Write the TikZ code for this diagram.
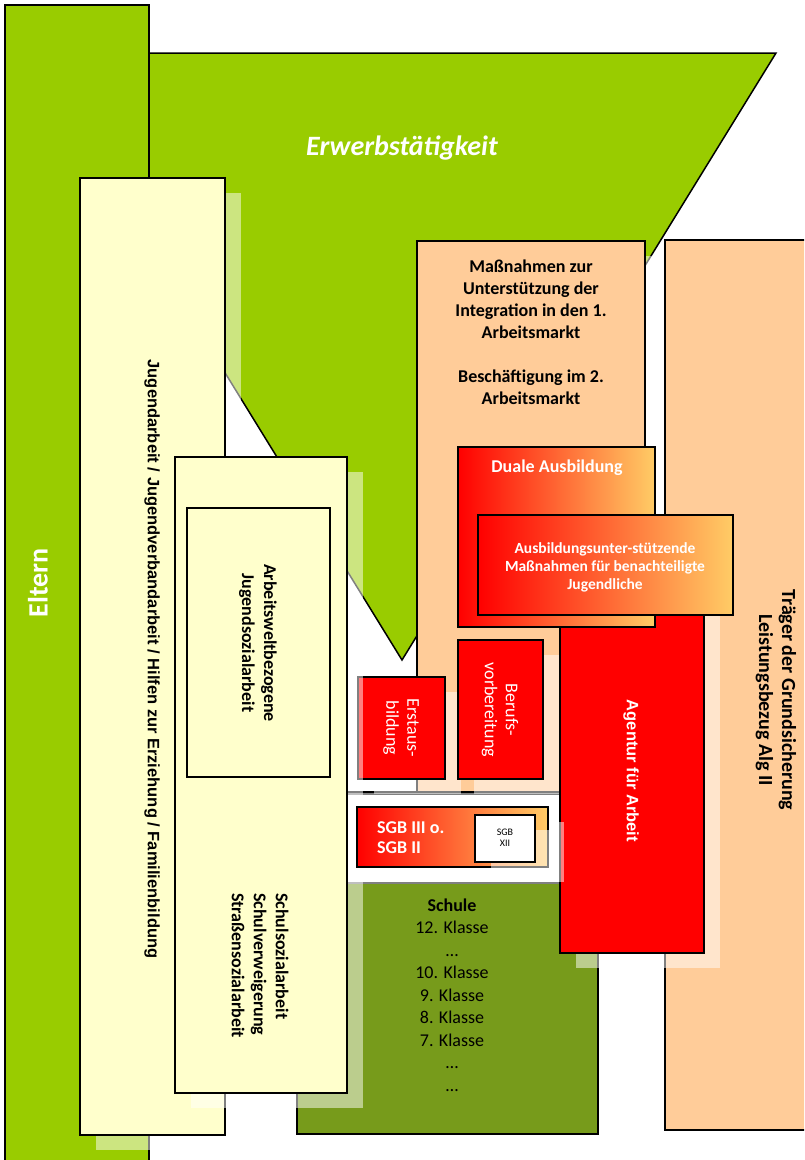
\documentclass[tikz,border=0pt]{standalone}
\usepackage{fontspec}
\setmainfont{Carlito}
\newfontfamily\arialfont{Liberation Sans}
\usetikzlibrary{shadows}

\definecolor{erwerb}{HTML}{99CC00}
\definecolor{hellgelb}{HTML}{FFFFCC}
\definecolor{pfirsich}{HTML}{FFCC99}
\definecolor{schulgruen}{HTML}{779B1B}
\definecolor{hellorange}{HTML}{FFCC66}

\tikzset{
  kante/.style={draw=black, line width=1.5pt},
  schatten/.style={drop shadow={draw=none, fill=white, opacity=0.5,
      shadow xshift=16pt, shadow yshift=-15pt}},
  verlauf/.style={left color=red, right color=hellorange},
  txt/.style={font=\fontsize{18}{22}\selectfont\bfseries, align=center, inner sep=0pt},
  wtxt/.style={font=\fontsize{18}{21}\selectfont, text=white, align=center, inner sep=0pt},
  gross/.style={font=\fontsize{28}{32}\selectfont\bfseries, text=white, inner sep=0pt},
  atxt/.style={font=\arialfont\fontsize{16.5}{20}\selectfont\bfseries, inner sep=0pt},
}

\begin{document}
\begin{tikzpicture}[x=1pt, y=-1pt]
\useasboundingbox (0,0) rectangle (804,1160);
\clip (0,0) rectangle (804,1160);

% Erwerbstaetigkeit und Eltern
\draw[kante, fill=erwerb] (28,53) -- (776,53) -- (402,660) -- cycle;
\draw[kante, fill=erwerb] (5,5) rectangle (149,1175);
\node[gross, rotate=90] (eltern) at (38,583) {Eltern};
\node[gross, font=\fontsize{28}{32}\selectfont\bfseries\itshape] (erwerb) at (402,148) {Erwerbstätigkeit};

% Traeger und Massnahmen
\draw[kante, fill=pfirsich] (665,240) rectangle (830,1130);
\node[txt, font=\fontsize{20}{23}\selectfont\bfseries, rotate=-90] (traeger) at (776,700) {Träger der Grundsicherung\\Leistungsbezug Alg II};
\draw[kante, fill=pfirsich, schatten] (417,241) rectangle (645,792);
\node[txt] (massnahmen) at (531,332) {Maßnahmen zur\\Unterstützung der\\Integration in den 1.\\Arbeitsmarkt\\[22pt]Beschäftigung im 2.\\Arbeitsmarkt};

% Jugendarbeit
\draw[kante, fill=hellgelb, schatten] (80,178) rectangle (225,1135);
\node[atxt, rotate=-90] (jugendarbeit) at (152,659) {Jugendarbeit / Jugendverbandarbeit / Hilfen zur Erziehung / Familienbildung};

% Schule
\draw[kante, fill=schulgruen, schatten] (297,792) rectangle (598,1134);
\node[font=\fontsize{18}{22.5}\selectfont, align=center, inner sep=0pt] (schule) at (452,995)
  {\textbf{Schule}\\12. Klasse\\…\\10. Klasse\\9. Klasse\\8. Klasse\\7. Klasse\\…\\…};
\draw[gray, line width=1.5pt, fill=white] (347,794) rectangle (562,883);

% Erstausbildung
\draw[kante, fill=red, schatten] (358,677) rectangle (445,779);
\node[wtxt, rotate=-90] (erstaus) at (401,728) {Erstaus-\\bildung};

% Jugendsozialarbeit
\draw[kante, fill=hellgelb, schatten] (175,457) rectangle (347,1093);
\draw[kante, fill=hellgelb] (187,508) rectangle (330,777);
\node[txt, rotate=-90] (arbeitswelt) at (258,643) {Arbeitsweltbezogene\\Jugendsozialarbeit};
\node[txt, rotate=-90, anchor=west, align=left] (schulsozial) at (260,893)
  {Schulsozialarbeit\\Schulverweigerung\\Straßensozialarbeit};

% Agentur fuer Arbeit
\draw[kante, fill=red, schatten] (560,600) rectangle (704,953);
\node[atxt, text=white, rotate=-90] (agentur) at (631,771) {Agentur für Arbeit};
\draw[kante, fill=red, schatten] (458,640) rectangle (543,779);
\node[wtxt, rotate=-90] (beruf) at (500,710) {Berufs-\\vorbereitung};

% Ausbildung
\draw[kante, verlauf] (458,447) rectangle (655,627);
\node[txt, text=white] (duale) at (557,468) {Duale Ausbildung};
\draw[kante, verlauf] (478,515) rectangle (733,615);
\node[txt, text=white, font=\fontsize{15.5}{18}\selectfont\bfseries] (ausbildung) at (605,567)
  {Ausbildungsunter-stützende\\Maßnahmen für benachteiligte\\Jugendliche};

% SGB
\draw[kante, verlauf, schatten] (357,807) rectangle (548,867);
\node[txt, text=white, anchor=west, align=left, font=\fontsize{18}{20}\selectfont\bfseries] (sgb) at (377,838) {SGB III o.\\SGB II};
\draw[kante, fill=white, schatten] (475,815) rectangle (535,862);
\node[font=\fontsize{10}{11}\selectfont, align=center, inner sep=0pt] (sgbxii) at (505,838) {SGB\\XII};
\end{tikzpicture}
\end{document}
